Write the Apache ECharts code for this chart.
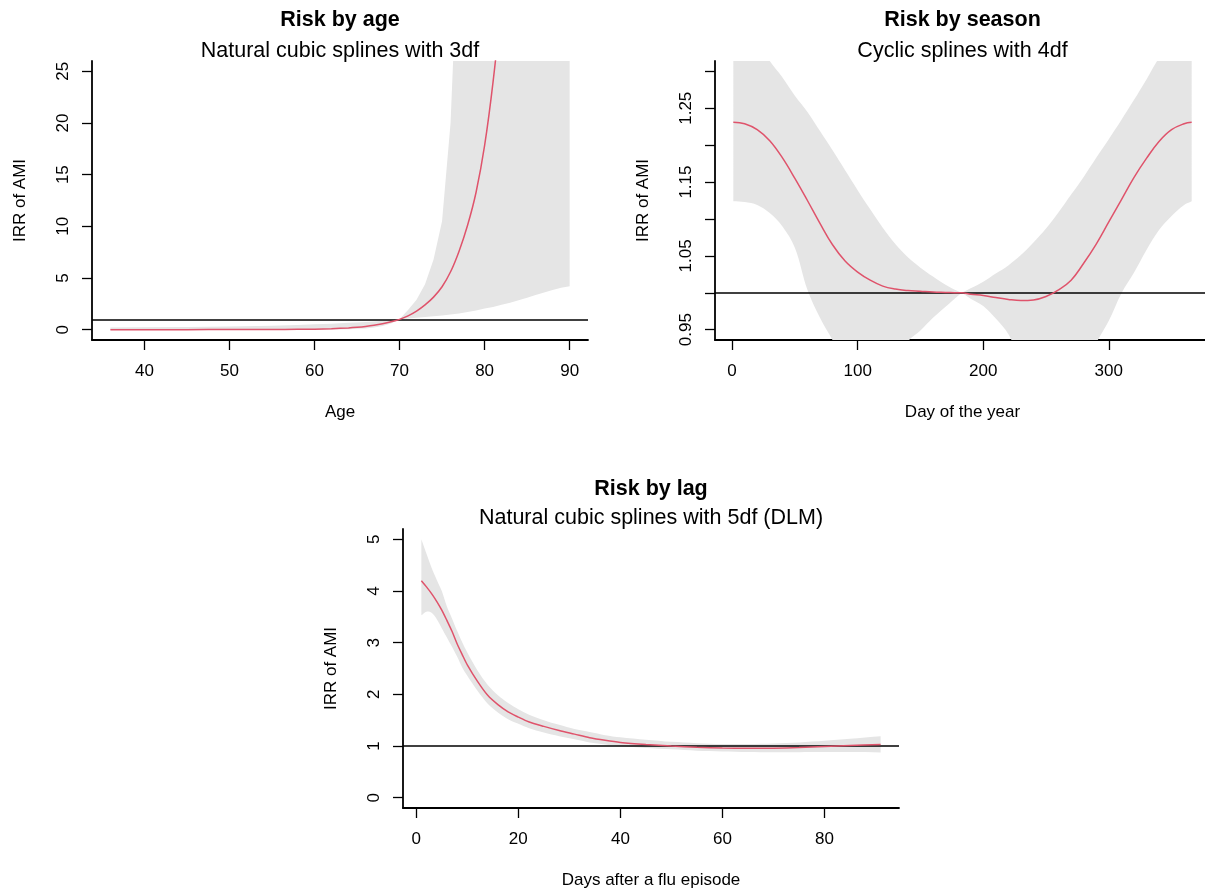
<!DOCTYPE html>
<html>
<head>
<meta charset="utf-8">
<script src="https://cdn.jsdelivr.net/npm/echarts@6/dist/echarts.min.js"></script>
<style>
html,body{margin:0;padding:0;background:#fff;}
#chart{width:1205px;height:890px;}
</style>
</head>
<body>
<div id="chart"></div>
<script>
// ---------- Panel 1: Risk by age ----------
const ageX    = [36,40,45,50,55,58,60,62,64,65,66,67,68,69,70,71,72,73,74,75,76,77,78,79,80,81,82,83,84,85,86,87,88,89,90];
const ageFit  = [0.0003,0.001,0.003,0.008,0.02,0.035,0.05,0.09,0.17,0.23,0.31,0.42,0.57,0.76,1.0,1.34,1.8,2.4,3.15,4.15,5.6,7.6,10.1,13.3,17.8,24,32,43,57,76,100,135,175,235,300];
const ageLow  = [0,0,0,0,0.002,0.005,0.01,0.02,0.05,0.08,0.12,0.2,0.35,0.6,1.0,1.08,1.15,1.22,1.3,1.38,1.46,1.56,1.7,1.85,2.05,2.2,2.4,2.6,2.85,3.1,3.35,3.6,3.85,4.05,4.2];
const ageHigh = [0.22,0.24,0.27,0.31,0.37,0.45,0.52,0.58,0.66,0.7,0.75,0.8,0.86,0.93,1.0,1.9,2.9,4.4,6.8,10.5,20,40,70,110,170,260,390,570,800,1100,1500,2000,2700,3500,4500];
const ageXTicks = [40,50,60,70,80,90];
const ageYTicks = [0,5,10,15,20,25];

// ---------- Panel 2: Risk by season ----------
const dayX    = [1,10,20,30,40,50,60,70,80,90,100,110,120,130,140,150,160,170,180,183,190,200,210,220,230,240,250,260,270,280,290,300,310,320,330,340,350,360,366];
const dayFit  = [1.231,1.229,1.221,1.206,1.183,1.155,1.125,1.094,1.065,1.043,1.028,1.017,1.009,1.005,1.003,1.002,1.001,1.0005,1.0,1.0,0.998,0.9963,0.9935,0.991,0.9895,0.9903,0.995,1.004,1.017,1.040,1.066,1.096,1.126,1.156,1.182,1.205,1.221,1.229,1.231];
const dayLow  = [1.124,1.123,1.119,1.108,1.090,1.061,1.004,0.966,0.936,0.905,0.88,0.875,0.88,0.90,0.934,0.949,0.966,0.981,0.996,1.0,0.992,0.982,0.965,0.944,0.91,0.895,0.88,0.87,0.87,0.895,0.932,0.962,0.999,1.027,1.058,1.085,1.104,1.119,1.124];
const dayHigh = [1.36,1.355,1.34,1.314,1.292,1.267,1.245,1.219,1.193,1.166,1.139,1.113,1.088,1.066,1.048,1.034,1.022,1.011,1.002,1.0,1.006,1.015,1.026,1.037,1.051,1.068,1.087,1.109,1.133,1.157,1.183,1.208,1.234,1.261,1.289,1.318,1.34,1.355,1.36];
const dayXTicks = [0,100,200,300];
const dayYTicks = [0.95,1.0,1.05,1.1,1.15,1.2,1.25,1.3];
const dayYLabels = [0.95,1.05,1.15,1.25];

// ---------- Panel 3: Risk by lag ----------
const lagX    = [1,2,3,4,5,6,7,8,9,10,12,14,16,18,20,22,25,28,31,34,37,40,45,50,55,60,65,70,75,80,85,91];
const lagFit  = [4.20,4.08,3.95,3.80,3.63,3.43,3.22,2.98,2.77,2.57,2.25,1.98,1.80,1.66,1.56,1.47,1.38,1.30,1.23,1.16,1.11,1.07,1.03,1.0,0.975,0.96,0.955,0.958,0.97,0.99,1.01,1.03];
const lagLow  = [3.53,3.60,3.58,3.46,3.28,3.10,2.92,2.73,2.52,2.36,2.07,1.82,1.65,1.52,1.43,1.35,1.26,1.19,1.13,1.07,1.03,1.0,0.96,0.935,0.91,0.895,0.885,0.88,0.88,0.882,0.882,0.875];
const lagHigh = [5.0,4.72,4.45,4.22,4.0,3.70,3.47,3.23,3.01,2.81,2.46,2.18,1.98,1.83,1.71,1.61,1.50,1.41,1.33,1.27,1.21,1.17,1.12,1.08,1.055,1.04,1.04,1.05,1.07,1.10,1.14,1.19];
const lagXTicks = [0,20,40,60,80];
const lagYTicks = [0,1,2,3,4,5];

const REF = 1;

// ---------- styling ----------
const FONT = '"Liberation Sans", Arial, Helvetica, sans-serif';
const RED = '#DF536B';
const BAND = '#E5E5E5';

function pairs(xs, ys) { return xs.map(function (x, i) { return [x, ys[i]]; }); }

// R-style usr range: data range extended by 4%
function ext(lo, hi) { const d = (hi - lo) * 0.04; return [lo - d, hi + d]; }

function bandSeries(xs, lo, hi, idx, smooth) {
  return {
    type: 'custom', coordinateSystem: 'cartesian2d',
    xAxisIndex: idx, yAxisIndex: idx, clip: true, silent: true, z: 1,
    data: [[xs[0], lo[0]]],
    renderItem: function (params, api) {
      const n = xs.length;
      const pts = [];
      function push(p, dup) { pts.push(p); if (dup) pts.push([p[0], p[1]]); }
      for (let i = 0; i < n; i++) {
        push(api.coord([xs[i], hi[i]]), smooth && (i === 0 || i === n - 1 || hi[i] === lo[i]));
      }
      for (let i = n - 1; i >= 0; i--) {
        push(api.coord([xs[i], lo[i]]), smooth && (i === 0 || i === n - 1 || hi[i] === lo[i]));
      }
      return { type: 'polygon', shape: { points: pts, smooth: smooth || 0 }, style: { fill: BAND, lineWidth: 0 } };
    }
  };
}
function fitSeries(xs, ys, idx, smooth) {
  return {
    type: 'line', xAxisIndex: idx, yAxisIndex: idx, data: pairs(xs, ys),
    showSymbol: false, symbol: 'none', smooth: smooth, clip: true, silent: true, z: 10,
    lineStyle: { color: RED, width: 1.5 }
  };
}
function refSeries(xs, idx) {
  return {
    type: 'line', xAxisIndex: idx, yAxisIndex: idx, data: [[xs[0], REF]],
    showSymbol: false, symbol: 'none', silent: true, z: 5, lineStyle: { opacity: 0 },
    markLine: {
      silent: true, symbol: ['none', 'none'], label: { show: false }, animation: false,
      lineStyle: { color: '#000', width: 1.5, type: 'solid' },
      emphasis: { disabled: true },
      data: [{ yAxis: REF }]
    }
  };
}
function xAxis(idx, range, ticks, name) {
  return {
    gridIndex: idx, type: 'value', min: range[0], max: range[1],
    axisLine: { show: true, onZero: false, lineStyle: { color: '#000', width: 1.8 } },
    axisTick: { show: true, inside: false, length: 10, customValues: ticks, lineStyle: { color: '#000', width: 1.3 } },
    axisLabel: { show: true, customValues: ticks, margin: 23, color: '#000', fontSize: 17, fontFamily: FONT },
    splitLine: { show: false },
    name: name, nameLocation: 'middle', nameGap: 64, nameMoveOverlap: false,
    nameTextStyle: { color: '#000', fontSize: 17, fontFamily: FONT }
  };
}
function yAxis(idx, range, ticks, labels, name, fmt) {
  return {
    gridIndex: idx, type: 'value', min: range[0], max: range[1],
    axisLine: { show: true, onZero: false, lineStyle: { color: '#000', width: 1.8 } },
    axisTick: { show: true, inside: false, length: 10, customValues: ticks, lineStyle: { color: '#000', width: 1.3 } },
    axisLabel: { show: true, customValues: labels, rotate: 90, margin: 20, color: '#000', fontSize: 17, fontFamily: FONT,
                 formatter: fmt || function (v) { return String(v); } },
    splitLine: { show: false },
    name: name, nameLocation: 'middle', nameGap: 63, nameMoveOverlap: false,
    nameTextStyle: { color: '#000', fontSize: 17, fontFamily: FONT }
  };
}
function title(text, cx, top, bold) {
  return {
    text: text, left: cx, top: top, textAlign: 'center', padding: 0,
    textStyle: { fontSize: 21.5, fontWeight: bold ? 'bold' : 'normal', color: '#000', fontFamily: FONT }
  };
}

const chart = echarts.init(document.getElementById('chart'), null, { renderer: 'canvas' });
chart.setOption({
  animation: false,
  backgroundColor: '#fff',
  title: [
    title('Risk by age', 340, 9, true),
    title('Natural cubic splines with 3df', 340, 40, false),
    title('Risk by season', 962.5, 9, true),
    title('Cyclic splines with 4df', 962.5, 40, false),
    title('Risk by lag', 651, 478, true),
    title('Natural cubic splines with 5df (DLM)', 651, 507, false)
  ],
  grid: [
    { left: 92, top: 61, width: 496, height: 279, containLabel: false, outerBoundsMode: 'none' },
    { left: 715, top: 61, width: 495, height: 279, containLabel: false, outerBoundsMode: 'none' },
    { left: 403, top: 529, width: 496, height: 279, containLabel: false, outerBoundsMode: 'none' }
  ],
  xAxis: [
    xAxis(0, ext(36, 90), ageXTicks, 'Age'),
    xAxis(1, ext(1, 366), dayXTicks, 'Day of the year'),
    xAxis(2, ext(1, 91), lagXTicks, 'Days after a flu episode')
  ],
  yAxis: [
    yAxis(0, ext(0, 25), ageYTicks, ageYTicks, 'IRR of AMI'),
    yAxis(1, ext(0.95, 1.3), dayYTicks, dayYLabels, 'IRR of AMI', function (v) { return v.toFixed(2); }),
    yAxis(2, ext(0, 5), lagYTicks, lagYTicks, 'IRR of AMI')
  ],
  series: [
    bandSeries(ageX, ageLow, ageHigh, 0, 0),
    refSeries(ageX, 0),
    fitSeries(ageX, ageFit, 0, 0.2),
    bandSeries(dayX, dayLow, dayHigh, 1, 0.35),
    refSeries(dayX, 1),
    fitSeries(dayX, dayFit, 1, 0.4),
    bandSeries(lagX, lagLow, lagHigh, 2, 0.3),
    refSeries(lagX, 2),
    fitSeries(lagX, lagFit, 2, 0.3)
  ]
});
</script>
</body>
</html>
